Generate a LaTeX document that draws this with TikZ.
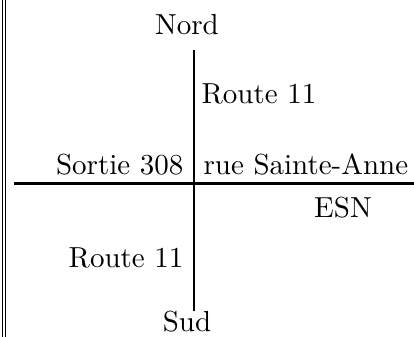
\documentclass[tikz,border=0pt]{standalone}
\usetikzlibrary{positioning}
\tikzset{road/.style={line width=0.7pt}}
\tikzset{marge/.style={line width=0.45pt}}
\tikzset{lbl/.style={inner sep=0pt, font=\fontsize{10}{12}\selectfont}}

\begin{document}
\begin{tikzpicture}[x=0.345pt, y=0.345pt]
    \useasboundingbox (0, 0) rectangle (414, 337);

    % marge double a gauche
    \coordinate (mA1) at (2.3, 0);
    \coordinate (mA2) at (2.3, 337);
    \coordinate (mB1) at (5.8, 0);
    \coordinate (mB2) at (5.8, 337);
    \draw[marge] (mA1) -- (mA2);
    \draw[marge] (mB1) -- (mB2);

    % routes
    \coordinate (haut) at (194, 287);
    \coordinate (bas) at (194, 26);
    \coordinate (ouest) at (14, 153.5);
    \coordinate (est) at (414, 153.5);
    \draw[road] (haut) -- (bas);
    \draw[road] (ouest) -- (est);

    \node[lbl, anchor=base] (nord) at (187, 302) {Nord};
    \node[lbl, anchor=base] (sud) at (187, 5) {Sud};

    \node[lbl, anchor=base west] (rte1) at (201, 233) {Route 11};
    \node[lbl, anchor=base east] (rte2) at (184, 69) {Route 11};

    \node[lbl, anchor=base east] (sortie) at (184, 162) {Sortie 308};
    \node[lbl, anchor=base west] (rue) at (203, 162) {rue Sainte-Anne};
    \node[lbl, anchor=base] (esn) at (343, 119) {ESN};
\end{tikzpicture}
\end{document}
